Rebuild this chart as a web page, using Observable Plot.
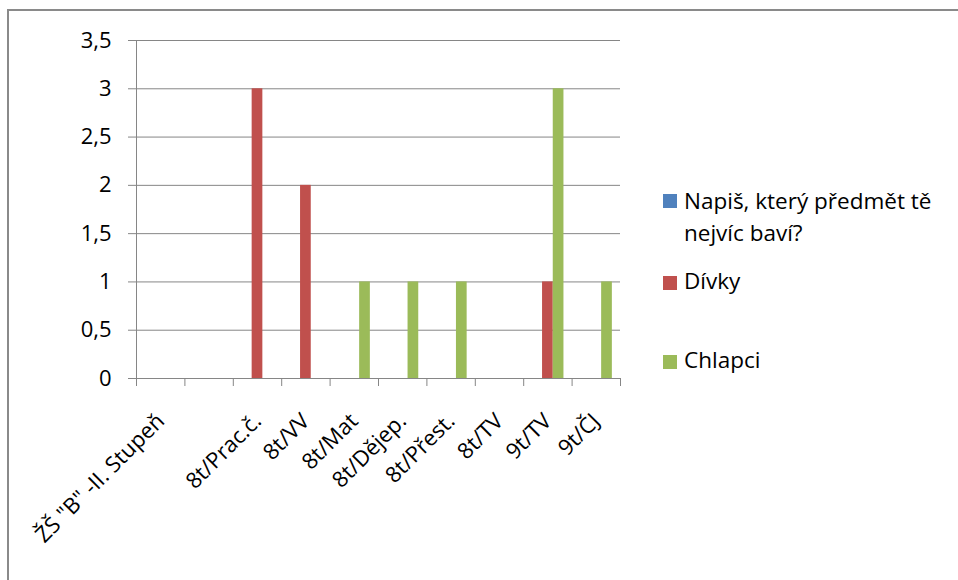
<!DOCTYPE html>
<html>
<head>
<meta charset="utf-8">
<script src="https://cdn.jsdelivr.net/npm/d3@7"></script>
<script src="https://cdn.jsdelivr.net/npm/@observablehq/plot@0.6"></script>
<style>
  html, body { margin: 0; padding: 0; background: #fff; }
  #wrap { position: relative; width: 958px; height: 580px; overflow: hidden; background: #fff; font-family: "Open Sans", sans-serif; }
  #border { position: absolute; left: 7px; top: 9px; width: 1200px; height: 1200px; border-left: 2px solid #8a8a8a; border-top: 2px solid #8a8a8a; box-sizing: border-box; }
  #chart { position: absolute; left: 0; top: 0; }
  .lg { position: absolute; font-size: 22.5px; line-height: 32px; color: #000; white-space: nowrap; }
  .sw { position: absolute; width: 14px; height: 14px; }
</style>
</head>
<body>
<div id="wrap">
  <div id="chart"></div>
  <div id="border"></div>
  <div id="legend"></div>
</div>
<script>
// ---- data ----
const categories = ['ŽŠ "B" -II. Stupeň', '', '8t/Prac.č.', '8t/VV', '8t/Mat', '8t/Dějep.', '8t/Přest.', '8t/TV', '9t/TV', '9t/ČJ'];
const seriesNames = ['Napiš, který předmět tě nejvíc baví?', 'Dívky', 'Chlapci'];
const seriesColors = ['#4F81BD', '#C0504D', '#9BBB59'];
const napisValues   = [null, null, null, null, null, null, null, null, null, null];
const divkyValues   = [null, null, 3, 2, null, null, null, null, 1, null];
const chlapciValues = [null, null, null, null, 1, 1, 1, null, 3, 1];
const yTicks = [0, 0.5, 1, 1.5, 2, 2.5, 3, 3.5];

const toRows = (vals) => categories.map((c, i) => ({cat: c, value: vals[i]})).filter(d => d.value != null);
const rowsNapis = toRows(napisValues);
const rowsDivky = toRows(divkyValues);
const rowsChlapci = toRows(chlapciValues);

const fmt = d => String(d).replace('.', ',');
const axisColor = '#868686';
const band = 48.4;      // px width of one category
const barW = 10.7;      // px width of one bar
const inset = (band - barW) / 2;

const chart = Plot.plot({
  width: 958,
  height: 580,
  marginLeft: 136,
  marginRight: 338,
  marginTop: 40,
  marginBottom: 202,
  style: {fontFamily: '"Open Sans", sans-serif', fontSize: '22px', color: '#000', background: 'transparent'},
  x: {type: 'band', domain: categories, paddingInner: 0, paddingOuter: 0, round: false, axis: null},
  y: {domain: [0, 3.5], axis: null},
  marks: [
    Plot.gridY(yTicks, {stroke: axisColor, strokeOpacity: 1, strokeWidth: 1}),
    Plot.axisY(yTicks, {tickSize: 8, tickPadding: 17, tickFormat: fmt, stroke: axisColor, strokeOpacity: 1, fontSize: 22, label: null, fill: '#000'}),
    Plot.frame({anchor: 'left', stroke: axisColor}),
    Plot.barY(rowsNapis, {x: 'cat', y: 'value', fill: seriesColors[0], insetLeft: inset, insetRight: inset, dx: -barW}),
    Plot.barY(rowsDivky, {x: 'cat', y: 'value', fill: seriesColors[1], insetLeft: inset, insetRight: inset}),
    Plot.barY(rowsChlapci, {x: 'cat', y: 'value', fill: seriesColors[2], insetLeft: inset, insetRight: inset, dx: barW}),
    Plot.ruleY([0], {stroke: axisColor}),
    Plot.axisX(categories, {tickSize: 8, tickFormat: () => '', stroke: axisColor, strokeOpacity: 1, label: null, dx: -band / 2}),
    Plot.axisX([categories[categories.length - 1]], {tickSize: 8, tickFormat: () => '', stroke: axisColor, strokeOpacity: 1, label: null, dx: band / 2}),
    Plot.text(categories, {x: d => d, frameAnchor: 'bottom', rotate: -45, textAnchor: 'end', dx: 5, dy: 44, fontSize: 22, fill: '#000'})
  ]
});
document.getElementById('chart').appendChild(chart);

// ---- legend (HTML) ----
const legend = document.getElementById('legend');
const legendItems = [
  {name: 'Napiš, který předmět tě<br>nejvíc baví?', color: seriesColors[0], top: 185, sq: 194},
  {name: seriesNames[1], color: seriesColors[1], top: 265, sq: 276},
  {name: seriesNames[2], color: seriesColors[2], top: 344, sq: 355}
];
for (const it of legendItems) {
  const sw = document.createElement('div');
  sw.className = 'sw';
  sw.style.left = '663px';
  sw.style.top = it.sq + 'px';
  sw.style.background = it.color;
  legend.appendChild(sw);
  const t = document.createElement('div');
  t.className = 'lg';
  t.style.left = '684px';
  t.style.top = it.top + 'px';
  t.innerHTML = it.name;
  legend.appendChild(t);
}
</script>
</body>
</html>
